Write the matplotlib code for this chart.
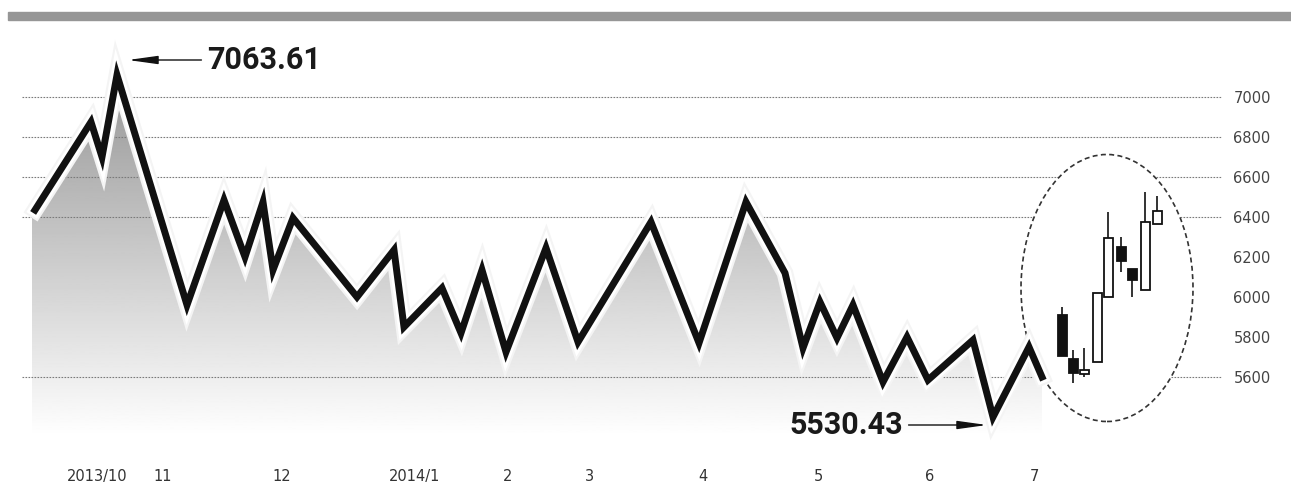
import numpy as np
import matplotlib
matplotlib.use("Agg")
import matplotlib.pyplot as plt
import matplotlib.patheffects as pe
from matplotlib.patches import Ellipse, Rectangle, Polygon
from matplotlib.font_manager import FontProperties

# index line (positions along the time axis, values)
pos = [35, 91, 102, 117, 187, 224, 245, 263, 273, 293, 357, 394, 404, 442, 461,
       482, 506, 546, 578, 651, 699, 746, 785, 803, 820, 837, 853, 883, 907,
       928, 973, 993, 1029, 1042]
vals = [6435, 6875, 6700, 7110, 5960, 6485, 6200, 6475, 6135, 6395, 6000, 6235,
        5850, 6045, 5820, 6135, 5725, 6245, 5775, 6375, 5770, 6475, 6120, 5745,
        5975, 5795, 5960, 5575, 5800, 5585, 5785, 5400, 5750, 5600]

# month ticks
month_pos = [97, 163, 282, 415, 508, 590, 703, 818, 930, 1034]
month_labels = ["2013/10", "11", "12", "2014/1", "2", "3", "4", "5", "6", "7"]

yticks = [7000, 6800, 6600, 6400, 6200, 6000, 5800, 5600]
grid_levels = [7000, 6800, 6600, 6400, 5600]

# candles inside the circle
cx = [1062, 1073, 1084, 1097, 1108, 1121, 1132, 1145, 1157]
c_open = [5910, 5690, 5615, 5675, 6000, 6250, 6140, 6035, 6365]
c_close = [5705, 5620, 5635, 6020, 6295, 6180, 6085, 6375, 6430]
c_high = [5950, 5735, 5745, 6020, 6425, 6300, 6140, 6525, 6505]
c_low = [5705, 5570, 5600, 5675, 6000, 6125, 6000, 6035, 6365]

fig = plt.figure(figsize=(12.91, 4.91), dpi=100)
ax = fig.add_axes([0, 46 / 491, 1225 / 1291, 415 / 491])
ax.set_xlim(0, 1225)
ax.set_ylim(5260, 7335)
for s in ax.spines.values():
    s.set_visible(False)

# gray bar on top
fig.add_artist(Rectangle((8 / 1291, (491 - 20) / 491), 1283 / 1291, 8 / 491,
                         transform=fig.transFigure, color="#969696"))

# gradient fill under the line
poly_xy = [(pos[0] - 3, 5260)] + [(pos[0] - 3, vals[0])] + list(zip(pos, vals)) + [(pos[-1], 5260)]
clip = Polygon(poly_xy, closed=True, facecolor="none", edgecolor="none")
ax.add_patch(clip)
grad = np.linspace(1.0, 0.58, 256).reshape(-1, 1)
img = ax.imshow(grad, extent=[20, 1060, 5300, 7150], origin="lower", cmap="gray",
                vmin=0, vmax=1, aspect="auto", zorder=1)
img.set_clip_path(clip)

# dotted gridlines
ax.hlines(grid_levels, 22, 1222, colors="#7a7a7a", linestyles=(0, (1.5, 1.2)), lw=0.8, zorder=2)

# circle around the candles
ax.add_patch(Ellipse((1107, 6045), 172, 1335, facecolor="white", edgecolor="#333333",
                     lw=1.2, linestyle=(0, (3, 2)), zorder=3))

# the index line
ax.plot(pos, vals, color="#111111", lw=5, solid_joinstyle="miter", zorder=5,
        path_effects=[pe.Stroke(linewidth=12, foreground="#f4f4f4"),
                      pe.Stroke(linewidth=9, foreground="white"), pe.Normal()])

# candlesticks
for x, o, c, h, l in zip(cx, c_open, c_close, c_high, c_low):
    ax.vlines(x, l, h, color="#111111", lw=1.2, zorder=6)
    face = "#111111" if c < o else "white"
    ax.bar(x, abs(c - o), bottom=min(o, c), width=9, facecolor=face,
           edgecolor="#111111", lw=1.3, zorder=7)

# high / low annotations
big = FontProperties(family="Roboto", weight="bold", size=22)
arrow = dict(arrowstyle="-|>,head_length=1.8,head_width=0.25", color="#111111",
             lw=1, shrinkA=2, shrinkB=0, mutation_scale=10)
ax.annotate("7063.61", xy=(128, 7185), xytext=(207, 7185), ha="left", va="center",
            fontproperties=big, color="#1a1a1a", arrowprops=arrow, zorder=8)
ax.annotate("5530.43", xy=(987, 5360), xytext=(903, 5360), ha="right", va="center",
            fontproperties=big, color="#1a1a1a", arrowprops=arrow, zorder=8)

ax.set_xticks(month_pos)
ax.set_xticklabels(month_labels, fontsize=10.5, color="#333333")
ax.set_yticks(yticks)
ax.set_yticklabels([str(v) for v in yticks], fontsize=10.5, color="#444444")
ax.yaxis.tick_right()
ax.tick_params(axis="x", length=0, pad=17)
ax.tick_params(axis="y", length=0, pad=6)

fig.savefig("out.png", dpi=100, facecolor="white")
